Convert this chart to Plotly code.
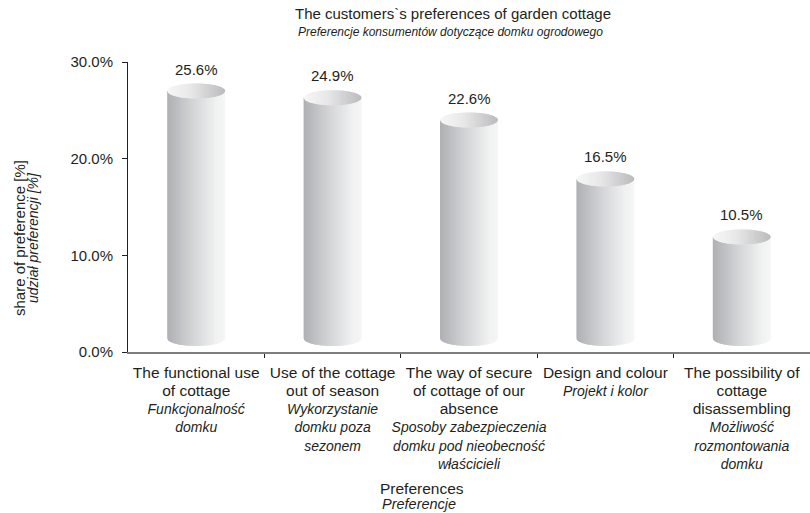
import numpy as np
import plotly.graph_objects as go

# ---------------- data ----------------
categories_en = [
    ["The functional use", "of cottage"],
    ["Use of the cottage", "out of season"],
    ["The way of secure", "of cottage of our", "absence"],
    ["Design and colour"],
    ["The possibility of", "cottage", "disassembling"],
]
categories_pl = [
    ["Funkcjonalność", "domku"],
    ["Wykorzystanie", "domku poza", "sezonem"],
    ["Sposoby zabezpieczenia", "domku pod nieobecność", "właścicieli"],
    ["Projekt i kolor"],
    ["Możliwość", "rozmontowania", "domku"],
]
values = [25.6, 24.9, 22.6, 16.5, 10.5]
y_ticks = [0, 10, 20, 30]
y_ticklabels = ["0.0%", "10.0%", "20.0%", "30.0%"]

title_en = "The customers`s preferences of garden cottage"
title_pl = "Preferencje konsumentów dotyczące domku ogrodowego"
ytitle_en = "share of preference [%]"
ytitle_pl = "udział preferencji [%]"
xtitle_en = "Preferences"
xtitle_pl = "Preferencje"

# ---------------- style ----------------
FONT = "Liberation Sans, Arial, sans-serif"
TXT = "#231f20"
W, H = 810, 513
ML, MR, MT, MB = 128, 0, 62, 161
PW, PH = W - ML - MR, H - MT - MB
A = 0.2126        # cylinder half width (x units)
DEPTH = 1.4       # 3D depth offset (y units)
B = 0.78          # ellipse half height (y units)
N_BODY = 40
N_TOP = 28


def lerp_col(stops, t):
    for (t0, c0), (t1, c1) in zip(stops[:-1], stops[1:]):
        if t <= t1:
            f = (t - t0) / (t1 - t0) if t1 > t0 else 0
            c = [round(c0[i] + (c1[i] - c0[i]) * f) for i in range(3)]
            return "rgb(%d,%d,%d)" % tuple(c)
    return "rgb(%d,%d,%d)" % tuple(stops[-1][1])


body_stops = [(0.0, (176, 177, 181)), (0.45, (212, 213, 215)), (0.85, (240, 241, 241)), (1.0, (246, 246, 246))]
top_stops = [(0.0, (246, 246, 246)), (0.4, (232, 232, 233)), (1.0, (188, 188, 190))]

xs = list(range(len(values)))
fig = go.Figure()


def arc(u_from, u_to, yc, sign, n=4):
    us = np.linspace(u_from, u_to, n)
    ys = yc + sign * B * np.sqrt(np.clip(1 - (us / A) ** 2, 0, 1))
    return us, ys


# body strips
w = 2 * A / N_BODY
for k in range(N_BODY):
    u0 = -A + k * w
    u1 = min(u0 + 1.6 * w, A)
    px, py = [], []
    for xc, v in zip(xs, values):
        top = DEPTH + v
        bu, by = arc(u1, u0, DEPTH, -1)
        px += [xc + u0, xc + u1] + list(xc + bu) + [None]
        py += [top, top] + list(by) + [None]
    fig.add_trace(go.Scatter(x=px, y=py, mode="lines", fill="toself", line=dict(width=0),
                             fillcolor=lerp_col(body_stops, k / (N_BODY - 1)),
                             hoverinfo="skip", showlegend=False))

# top ellipse strips
w = 2 * A / N_TOP
for k in range(N_TOP):
    u0 = -A + k * w
    u1 = min(u0 + 1.6 * w, A)
    px, py = [], []
    for xc, v in zip(xs, values):
        top = DEPTH + v
        tu, ty = arc(u0, u1, top, 1)
        bu, by = arc(u1, u0, top, -1)
        px += list(xc + tu) + list(xc + bu) + [None]
        py += list(ty) + list(by) + [None]
    fig.add_trace(go.Scatter(x=px, y=py, mode="lines", fill="toself", line=dict(width=0),
                             fillcolor=lerp_col(top_stops, k / (N_TOP - 1)),
                             hoverinfo="skip", showlegend=False))

# tick labels
ticktext = []
for en, pl in zip(categories_en, categories_pl):
    lines = ["<span style='font-size:15.5px'>%s</span>" % s for s in en]
    lines += ["<i>%s</i>" % s for s in pl]
    ticktext.append("<br>".join(lines))

annotations = []
for xc, v in zip(xs, values):
    annotations.append(dict(x=xc, y=DEPTH + v, xref="x", yref="y", text="%.1f%%" % v,
                            showarrow=False, yshift=22, yanchor="middle",
                            font=dict(size=15, color=TXT, family=FONT)))


def px2paper(px, py):
    return (px - ML) / PW, (MT + PH - py) / PH


for txt, (px, py), size, ital, ang in [
    (title_en, (453, 14), 15, False, 0),
    (title_pl, (450, 32), 12, True, 0),
    (xtitle_en, (422, 488), 15.5, False, 0),
    (xtitle_pl, (419, 504), 14.5, True, 0),
    (ytitle_en, (19, 238), 15, False, -90),
    (ytitle_pl, (33, 238), 14, True, -90),
]:
    ax, ay = px2paper(px, py)
    annotations.append(dict(x=ax, y=ay, xref="paper", yref="paper", text=("<i>%s</i>" % txt) if ital else txt,
                            showarrow=False, xanchor="center", yanchor="middle", textangle=ang,
                            font=dict(size=size, color=TXT, family=FONT)))

fig.update_layout(
    width=W, height=H,
    margin=dict(l=ML, r=MR, t=MT, b=MB, pad=0),
    paper_bgcolor="white", plot_bgcolor="white",
    font=dict(family=FONT, color=TXT),
    showlegend=False,
    annotations=annotations,
    xaxis=dict(range=[-0.5, len(values) - 0.5], tickmode="array", tickvals=xs, ticktext=ticktext,
               tickangle=0, ticks="", showgrid=False, zeroline=False,
               showline=True, linecolor="#7d7d7d", linewidth=2,
               tickfont=dict(size=14, color=TXT, family=FONT), ticklabelstandoff=7,
               minor=dict(tickmode="array", tickvals=[i + 0.5 for i in xs[:-1]], ticks="outside",
                          ticklen=4, tickcolor=TXT, tickwidth=1, showgrid=False),
               fixedrange=True),
    yaxis=dict(range=[0, 30], tickmode="array", tickvals=y_ticks, ticktext=y_ticklabels,
               ticks="outside", ticklen=5, tickcolor=TXT, showgrid=False, zeroline=False,
               showline=True, linecolor=TXT, linewidth=1,
               tickfont=dict(size=15, color=TXT, family=FONT), ticklabelstandoff=6,
               fixedrange=True),
)

fig.write_html("out.html")
